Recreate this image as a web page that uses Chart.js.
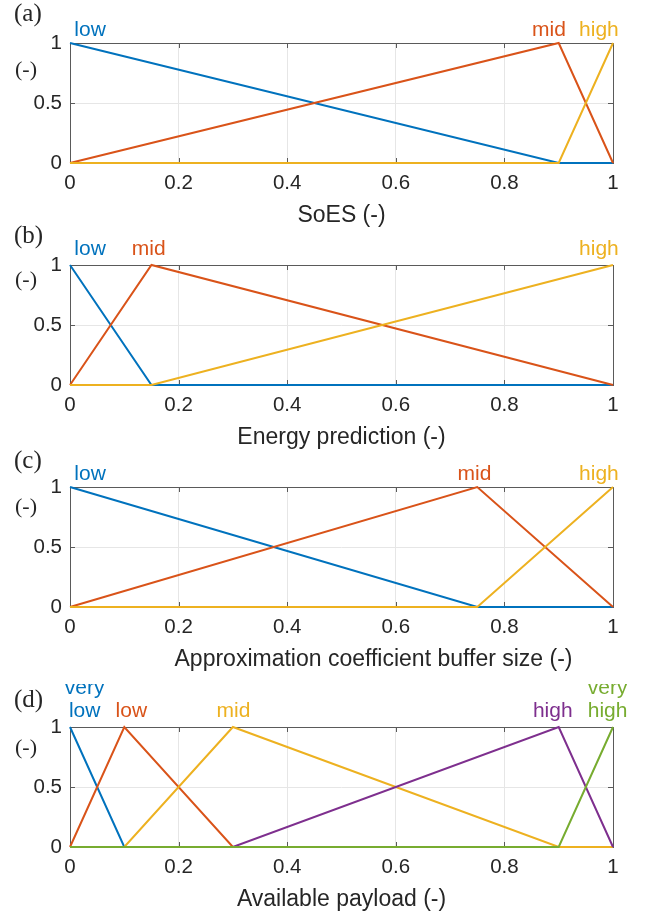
<!DOCTYPE html>
<html>
<head>
<meta charset="utf-8">
<script src="https://cdn.jsdelivr.net/npm/chart.js@4"></script>
<style>
  html, body { margin: 0; padding: 0; background: #ffffff; }
  body { width: 650px; height: 913px; position: relative; overflow: hidden; }
  canvas { position: absolute; left: 0; }
</style>
</head>
<body>
<canvas id="ca" width="650" height="229" style="top:0px"></canvas>
<canvas id="cb" width="650" height="229" style="top:222px"></canvas>
<canvas id="cc" width="650" height="229" style="top:444px"></canvas>
<canvas id="cd" width="650" height="229" style="top:684px"></canvas>
<script>
// ---------- data ----------
const xTickValues = [0, 0.2, 0.4, 0.6, 0.8, 1];
const yTickValues = [0, 0.5, 1];

// (a) SoES
const soesX = [0, 0.9, 1];
const soesLow = [1, 0, 0];
const soesMid = [0, 1, 0];
const soesHigh = [0, 0, 1];
const soesNames = ['low', 'mid', 'high'];
const soesLabelX = [0.037, 0.882, 0.974];

// (b) Energy prediction
const energyX = [0, 0.15, 1];
const energyLow = [1, 0, 0];
const energyMid = [0, 1, 0];
const energyHigh = [0, 0, 1];
const energyNames = ['low', 'mid', 'high'];
const energyLabelX = [0.037, 0.145, 0.974];

// (c) Approximation coefficient buffer size
const bufferX = [0, 0.75, 1];
const bufferLow = [1, 0, 0];
const bufferMid = [0, 1, 0];
const bufferHigh = [0, 0, 1];
const bufferNames = ['low', 'mid', 'high'];
const bufferLabelX = [0.037, 0.745, 0.974];

// (d) Available payload
const payloadX = [0, 0.1, 0.3, 0.9, 1];
const payloadVeryLow = [1, 0, 0, 0, 0];
const payloadLow = [0, 1, 0, 0, 0];
const payloadMid = [0, 0, 1, 0, 0];
const payloadHigh = [0, 0, 0, 1, 0];
const payloadVeryHigh = [0, 0, 0, 0, 1];
const payloadNames = [['very', 'low'], 'low', 'mid', 'high', ['very', 'high']];
const payloadLabelX = [0.027, 0.113, 0.301, 0.889, 0.99];

// ---------- styles ----------
const colors = ['#0072BD', '#D95319', '#EDB120', '#7E2F8E', '#77AC30'];
const SANS = '"Liberation Sans", Arial, Helvetica, sans-serif';
const SERIF = '"Liberation Serif", "Times New Roman", serif';
const TEXT = '#262626';
const BOX = '#5a5a5a';
const GRID = '#e6e6e6';

const panels = [
  { canvas: 'ca', letter: '(a)', title: 'SoES (-)', x: soesX, series: [soesLow, soesMid, soesHigh],
    names: soesNames, labelX: soesLabelX, letterDy: -22, unitDy: 33, labelDy: -7, titleShift: 0 },
  { canvas: 'cb', letter: '(b)', title: 'Energy prediction (-)', x: energyX, series: [energyLow, energyMid, energyHigh],
    names: energyNames, labelX: energyLabelX, letterDy: -22, unitDy: 21, labelDy: -10, titleShift: 0 },
  { canvas: 'cc', letter: '(c)', title: 'Approximation coefficient buffer size (-)', x: bufferX, series: [bufferLow, bufferMid, bufferHigh],
    names: bufferNames, labelX: bufferLabelX, letterDy: -19, unitDy: 26, labelDy: -7, titleShift: 32 },
  { canvas: 'cd', letter: '(d)', title: 'Available payload (-)', x: payloadX,
    series: [payloadVeryLow, payloadLow, payloadMid, payloadHigh, payloadVeryHigh],
    names: payloadNames, labelX: payloadLabelX, letterDy: -20, unitDy: 27, labelDy: -10, titleShift: 0 }
];

const decorPlugin = {
  id: 'decor',
  beforeDatasetsDraw(chart) {
    const { ctx, chartArea: a, scales } = chart;
    ctx.save();
    ctx.strokeStyle = BOX;
    ctx.lineWidth = 1;
    ctx.strokeRect(Math.round(a.left) + 0.5, Math.round(a.top) + 0.5,
                   Math.round(a.right - a.left), Math.round(a.bottom - a.top));
    const tl = 5;
    ctx.beginPath();
    scales.x.ticks.forEach(t => {
      const px = Math.round(scales.x.getPixelForValue(t.value)) + 0.5;
      ctx.moveTo(px, a.bottom); ctx.lineTo(px, a.bottom - tl);
      ctx.moveTo(px, a.top); ctx.lineTo(px, a.top + tl);
    });
    scales.y.ticks.forEach(t => {
      const py = Math.round(scales.y.getPixelForValue(t.value)) + 0.5;
      ctx.moveTo(a.left, py); ctx.lineTo(a.left + tl, py);
      ctx.moveTo(a.right, py); ctx.lineTo(a.right - tl, py);
    });
    ctx.stroke();
    ctx.restore();
  },
  afterDraw(chart) {
    const p = chart.options.plugins.decor;
    const { ctx, chartArea: a, scales } = chart;
    ctx.save();
    ctx.textBaseline = 'alphabetic';
    ctx.fillStyle = TEXT;
    // panel letter and unit label
    ctx.textAlign = 'left';
    ctx.font = '25px ' + SERIF;
    ctx.fillText(p.letter, 14, a.top + p.letterDy);
    ctx.font = '22px ' + SERIF;
    ctx.fillText('(-)', 15, a.top + p.unitDy);
    // x-axis title
    ctx.textAlign = 'center';
    ctx.font = '23px ' + SANS;
    ctx.fillText(p.title, (a.left + a.right) / 2 + p.titleShift, a.bottom + 59);
    // membership-function names
    ctx.font = '21px ' + SANS;
    p.names.forEach((name, i) => {
      const px = scales.x.getPixelForValue(p.labelX[i]);
      ctx.fillStyle = colors[i];
      const lines = Array.isArray(name) ? name : [name];
      const base = a.top + p.labelDy;
      lines.forEach((ln, j) => {
        ctx.fillText(ln, px, base - (lines.length - 1 - j) * 23);
      });
    });
    ctx.restore();
  }
};

panels.forEach(p => {
  const n = p.series.length;
  const datasets = p.series.map((vals, i) => ({
    label: Array.isArray(p.names[i]) ? p.names[i].join(' ') : p.names[i],
    data: p.x.map((xv, k) => ({ x: xv, y: vals[k] })),
    borderColor: colors[i],
    backgroundColor: colors[i],
    borderWidth: 2,
    pointRadius: 0,
    tension: 0,
    fill: false,
    clip: false,
    order: n - 1 - i
  }));
  new Chart(document.getElementById(p.canvas), {
    type: 'line',
    data: { datasets },
    plugins: [decorPlugin],
    options: {
      responsive: false,
      animation: false,
      devicePixelRatio: 1,
      layout: { padding: { top: 43, left: 0, right: 37, bottom: 2 } },
      plugins: {
        legend: { display: false },
        tooltip: { enabled: false },
        decor: { letter: p.letter, title: p.title, titleShift: p.titleShift, names: p.names, labelX: p.labelX,
                 letterDy: p.letterDy, unitDy: p.unitDy, labelDy: p.labelDy }
      },
      scales: {
        x: {
          type: 'linear', min: 0, max: 1,
          afterBuildTicks: s => { s.ticks = xTickValues.map(v => ({ value: v })); },
          afterFit: s => { s.height = 64; },
          ticks: { font: { family: SANS, size: 20.5 }, color: TEXT, padding: 8, maxRotation: 0,
                   callback: v => String(v) },
          grid: { color: GRID, drawTicks: false, lineWidth: 1 },
          border: { display: false },
          title: { display: false, text: p.title }
        },
        y: {
          type: 'linear', min: 0, max: 1,
          afterBuildTicks: s => { s.ticks = yTickValues.map(v => ({ value: v })); },
          afterFit: s => { s.width = 70; },
          ticks: { font: { family: SANS, size: 20.5 }, color: TEXT, padding: 8,
                   callback: v => String(v) },
          grid: { color: GRID, drawTicks: false, lineWidth: 1 },
          border: { display: false }
        }
      }
    }
  });
});
</script>
</body>
</html>
